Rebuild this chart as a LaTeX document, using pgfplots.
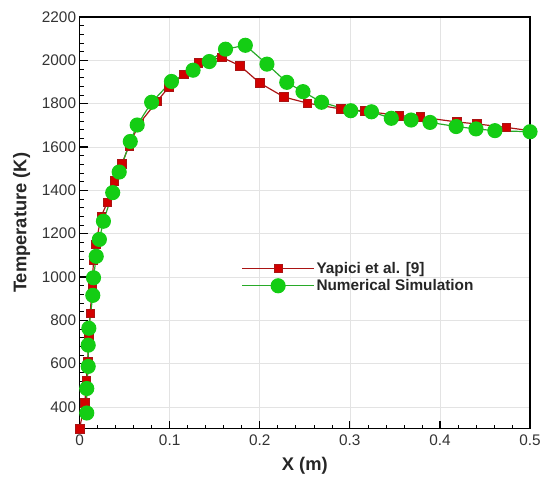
\documentclass[border=0pt]{standalone}
\usepackage{pgfplots}
\pgfplotsset{compat=1.18}
\usepackage{fontspec}
\setmainfont{Liberation Sans}
\definecolor{redline}{RGB}{170,20,20}
\definecolor{redfill}{RGB}{210,0,0}
\definecolor{grnline}{RGB}{40,170,40}
\definecolor{grnfill}{RGB}{20,205,20}
\begin{document}
\begin{tikzpicture}
\begin{axis}[
  scale only axis, width=453bp, height=414bp,
  xmin=0, xmax=0.5, ymin=300, ymax=2200,
  xtick={0,0.1,0.2,0.3,0.4,0.5},
  xticklabels={0,0.1,0.2,0.3,0.4,0.5},
  ytick={400,600,800,1000,1200,1400,1600,1800,2000,2200},
  minor x tick num=4, minor y tick num=4,
  tick align=inside, xtick pos=bottom, ytick pos=left,
  major tick length=8bp, minor tick length=4bp,
  every major tick/.style={black, line width=1.3pt},
  every minor tick/.style={black, line width=0.6pt},
  axis line style={black, line width=1.3pt},
  grid=major, major grid style={gray!22, line width=0.6pt},
  /pgf/number format/assume math mode=true,
  /pgf/number format/1000 sep={},
  ticklabel style={font=\fontsize{15.5}{16}\selectfont, text=black!80},
  xticklabel style={yshift=-3bp},
  xlabel={\textbf{X (m)}}, ylabel={\textbf{Temperature (K)}},
  label style={font=\fontsize{18.5}{20}\selectfont, text=black!85},
  xlabel style={yshift=-4bp},
  ylabel style={yshift=5bp},
  clip=false,
  legend style={at={(0.353,0.415)}, anchor=north west, draw=none, fill=none,
    font=\bfseries\fontsize{15.5}{17}\selectfont, row sep=1bp, text=black!85},
  legend cell align=left,
  legend image code/.code={\draw[mark repeat=2,mark phase=2,#1] plot coordinates {(0bp,0bp) (36bp,0bp) (72bp,0bp)};},
]
\addplot[redline, line width=1.2pt, mark=square*, mark size=4.3bp,
  mark options={fill=redfill, draw=redline, line width=0.6pt}] coordinates {
(0,300) (0.006,420) (0.0075,520) (0.009,610) (0.010,720) (0.0118,832)
(0.0140,955) (0.0155,1077) (0.018,1150) (0.024,1280) (0.031,1345)
(0.0386,1443) (0.047,1522) (0.055,1606) (0.066,1706) (0.086,1810)
(0.099,1876) (0.116,1936) (0.132,1988) (0.158,2013) (0.178,1975)
(0.200,1895) (0.227,1830) (0.253,1802) (0.290,1775) (0.316,1766)
(0.355,1744) (0.378,1738) (0.419,1715) (0.441,1706) (0.4735,1690) (0.500,1675)
};
\addlegendentry{Yapici et al. [9]}
\addplot[grnline, line width=1.2pt, mark=*, mark size=7bp,
  mark options={fill=grnfill, draw=grnfill}] coordinates {
(0.008,372) (0.008,485) (0.0096,587) (0.0096,685) (0.0103,763) (0.0147,915)
(0.0155,996) (0.0185,1095) (0.022,1173) (0.0265,1257) (0.0368,1389)
(0.044,1484) (0.0563,1625) (0.064,1701) (0.080,1806) (0.102,1902)
(0.126,1954) (0.144,1994) (0.162,2051) (0.184,2069) (0.208,1982)
(0.230,1898) (0.248,1855) (0.2686,1806) (0.301,1767) (0.324,1762)
(0.346,1732) (0.368,1724) (0.389,1713) (0.418,1694) (0.440,1683)
(0.461,1675) (0.500,1670)
};
\addlegendentry{Numerical Simulation}
\end{axis}
\path ([xshift=-80bp,yshift=-48bp]current axis.south west) rectangle ([xshift=11bp,yshift=17bp]current axis.north east);
\end{tikzpicture}
\end{document}
